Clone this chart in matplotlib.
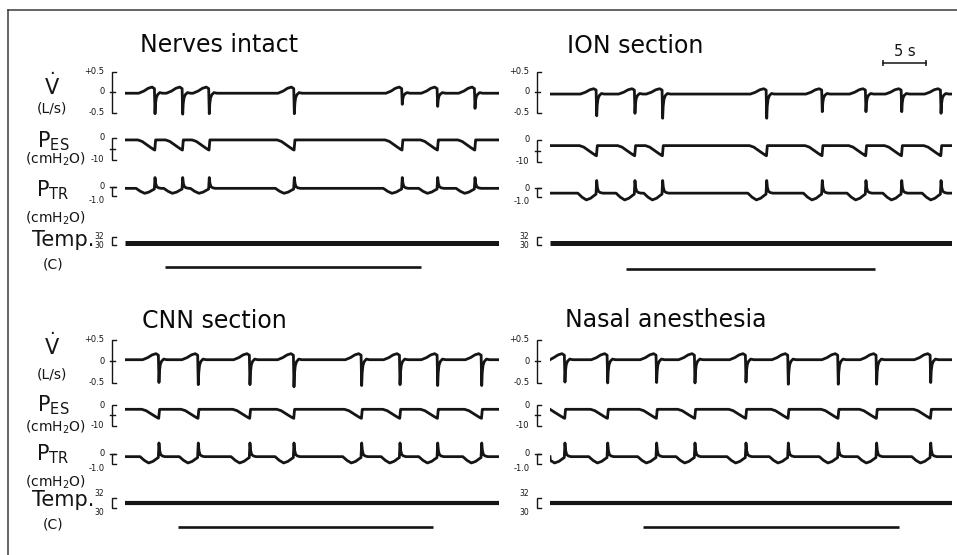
import numpy as np
import matplotlib
matplotlib.use("Agg")
import matplotlib.pyplot as plt
from matplotlib.lines import Line2D

plt.rcParams['font.family'] = ['DejaVu Sans']
plt.rcParams['mathtext.fontset'] = 'dejavusans'

# ------------------------------------------------------------------ data
panel_titles = ["Nerves intact", "ION section", "CNN section", "Nasal anesthesia"]
panel_durations = [43.5, 46.7, 43.5, 46.7]          # s

# time of each inspiratory flow dip (s) and its depth (L/s)
breaths_intact = [3.49, 6.71, 9.80, 19.69, 32.24, 36.36, 40.70]
flow_min_intact = [-0.53, -0.54, -0.53, -0.53, -0.30, -0.35, -0.40]
breaths_ion = [5.43, 9.88, 13.10, 25.20, 31.66, 36.74, 40.90, 45.47]
flow_min_ion = [-0.58, -0.52, -0.64, -0.64, -0.48, -0.48, -0.48, -0.52]
breaths_cnn = [3.95, 8.52, 14.53, 19.65, 27.52, 31.98, 36.36, 41.48]
flow_min_cnn = [-0.50, -0.55, -0.55, -0.60, -0.57, -0.55, -0.57, -0.57]
breaths_nasal = [1.74, 6.71, 12.40, 16.86, 22.79, 27.71, 33.52, 37.98, 44.27]
flow_min_nasal = [-0.49, -0.51, -0.50, -0.51, -0.49, -0.54, -0.54, -0.54, -0.50]

flow_base = [-0.03, -0.05, 0.03, 0.03]      # L/s
flow_hump = [0.12, 0.08, 0.17, 0.17]        # L/s, pre-inspiratory peak
pes_base = [-1.1, -2.6, -2.1, -2.1]         # cmH2O
pes_trough = [-5.7, -7.2, -6.5, -6.5]       # cmH2O
ptr_base = [-0.15, -0.55, -0.3, -0.3]       # cmH2O
ptr_peak = [1.05, 0.85, 1.0, 1.0]           # cmH2O
ptr_dip = [-0.7, -1.3, -0.9, -0.9]          # cmH2O
temp_level = [30.55, 30.55, 31.0, 31.0]     # C
stim_start = [4.65, 8.8, 6.12, 10.78]       # s
stim_end = [34.4, 37.8, 35.85, 40.62]       # s

flow_tick_vals, flow_tick_labels = [0.5, 0, -0.5], ["+0.5", "0", "-0.5"]
pes_tick_vals, pes_tick_labels = [0, -10], ["0", "-10"]
ptr_tick_vals, ptr_tick_labels = [0, -1.0], ["0", "-1.0"]
temp_tick_vals, temp_tick_labels = [32, 30], ["32", "30"]
scale_bar_len = 5      # s
scale_bar_end = 43.7   # s, in the ION panel

breaths = [breaths_intact, breaths_ion, breaths_cnn, breaths_nasal]
flow_mins = [flow_min_intact, flow_min_ion, flow_min_cnn, flow_min_nasal]

# ------------------------------------------------------------------ layout (pixels)
W, H = 957, 555
PX_PER_S = 8.6
panel_x0 = [125, 550, 125, 550]
panel_row = [0, 0, 1, 1]
row_flow = [(92, 41), (361, 43)]        # zero px, px per unit
row_pes = [(137.5, 2.2), (405, 2.05)]
row_ptr = [(187, 9.0), (453.5, 10.5)]
row_temp = [(236.7, 4.15), (498.3, 5.0)]   # px of 32 C, px per unit
panel_bar_y = [267, 269, 527, 527]
panel_ptr_shift = [0, 4, 0, 0]

INK = '#151515'
fig = plt.figure(figsize=(W / 100, H / 100), dpi=100)
fig.patch.set_facecolor('white')


def px_axes(x0, dur, ref_val, ref_px, ppu, vmin, vmax):
    top = ref_px - (vmax - ref_val) * ppu
    bot = ref_px - (vmin - ref_val) * ppu
    ax = fig.add_axes([x0 / W, 1 - bot / H, dur * PX_PER_S / W, (bot - top) / H])
    ax.set_xlim(0, dur)
    ax.set_ylim(vmin, vmax)
    ax.axis('off')
    ax.patch.set_visible(False)
    return ax


def bracket(ax, vals, labels, fs, mid=None, va_list=None):
    bx = -13.5 / PX_PER_S
    tl = 4 / PX_PER_S
    lx = -20.5 / PX_PER_S
    top, bot = max(vals), min(vals)
    ax.plot([bx + tl, bx, bx, bx + tl], [top, top, bot, bot], color=INK,
            lw=1.0, clip_on=False, solid_joinstyle='miter')
    if mid is not None:
        ax.plot([bx - tl * 0.4, bx + tl * 0.8], [mid, mid], color=INK, lw=1.0,
                clip_on=False)
    for i, (v, lab) in enumerate(zip(vals, labels)):
        va = 'center' if va_list is None else va_list[i]
        ax.text(lx, v, lab, ha='right', va=va, fontsize=fs, color=INK)


def build(times, rel, vals_fn, base, dur):
    ts, ys = [0.0], [base]
    for k, t in enumerate(times):
        for r, v in zip(rel, vals_fn(k)):
            if 0 < t + r < dur:
                ts.append(t + r)
                ys.append(base + v)
    ts.append(dur)
    ys.append(base)
    return ts, ys


flow_rel = [-1.9, -1.3, -0.8, -0.35, -0.07, 0.0, 0.06, 0.15, 0.3, 0.55, 0.9]
pes_rel = [-2.0, -1.5, -1.0, -0.5, -0.15, -0.03, 0.07, 0.2]
ptr_rel = [-2.2, -1.7, -1.2, -0.7, -0.3, -0.08, 0.0, 0.08, 0.2, 0.4, 0.7]
TRACE_LW = 2.0

for p in range(4):
    x0 = panel_x0[p]
    dur = panel_durations[p]
    row = panel_row[p]
    bt = breaths[p]

    # ---- flow
    fz, fppu = row_flow[row]
    ax = px_axes(x0, dur, 0, fz, fppu, -0.75, 0.75)
    hb = flow_hump[p] - flow_base[p]
    mins = flow_mins[p]
    ts, ys = build(bt, flow_rel,
                   lambda k: [0, hb * 0.35, hb * 0.8, hb, hb * 0.75,
                              mins[k] - flow_base[p], (mins[k] - flow_base[p]) * 0.5,
                              (mins[k] - flow_base[p]) * 0.22, (mins[k] - flow_base[p]) * 0.07,
                              hb * 0.1, 0],
                   flow_base[p], dur)
    ax.plot(ts, ys, color=INK, lw=TRACE_LW, solid_joinstyle='round')
    bracket(ax, flow_tick_vals, flow_tick_labels, 6, mid=0)
    if p == 1:
        sb0 = scale_bar_end - scale_bar_len
        yb = (fz - 63) / fppu
        ax.plot([sb0, scale_bar_end], [yb, yb], color=INK, lw=1.1, clip_on=False,
                marker='|', markersize=5, markeredgewidth=1.1)
        ax.text((sb0 + scale_bar_end) / 2, (fz - 52) / fppu, "5 s", ha='center',
                va='center', fontsize=10.5, color=INK)

    # ---- oesophageal pressure
    pz, pppu = row_pes[row]
    ax = px_axes(x0, dur, 0, pz + panel_ptr_shift[p] * 0.6, pppu, -15, 5)
    dd = pes_trough[p] - pes_base[p]
    ts, ys = build(bt, pes_rel,
                   lambda k: [0, dd * 0.15, dd * 0.45, dd * 0.75, dd * 0.95, dd, 0, 0],
                   pes_base[p], dur)
    ax.plot(ts, ys, color=INK, lw=TRACE_LW, solid_joinstyle='round')
    bracket(ax, pes_tick_vals, pes_tick_labels, 6, mid=-5)

    # ---- tracheal pressure
    tz, tppu = row_ptr[row]
    ax = px_axes(x0, dur, 0, tz + panel_ptr_shift[p] * 0.3, tppu, -2.5, 2.0)
    dp = ptr_dip[p] - ptr_base[p]
    pk = ptr_peak[p] - ptr_base[p]
    ts, ys = build(bt, ptr_rel,
                   lambda k: [0, dp * 0.6, dp, dp * 0.75, dp * 0.35, dp * 0.15,
                              pk, pk * 0.45, pk * 0.15, pk * 0.05, 0],
                   ptr_base[p], dur)
    ax.plot(ts, ys, color=INK, lw=TRACE_LW, solid_joinstyle='round')
    bracket(ax, ptr_tick_vals, ptr_tick_labels, 6, mid=0,
            va_list=['center', 'top'])

    # ---- temperature
    mz, mppu = row_temp[row]
    ax = px_axes(x0, dur, 32, mz, mppu, 28, 34)
    ax.plot([0, dur], [temp_level[p], temp_level[p]], color=INK,
            lw=3.6 if row == 0 else 3.0, solid_capstyle='butt')
    if row == 0:
        bracket(ax, temp_tick_vals, temp_tick_labels, 5.5)
    else:
        bracket(ax, temp_tick_vals, temp_tick_labels, 5.5,
                va_list=['bottom', 'top'])

    # ---- stimulus bar
    by = panel_bar_y[p]
    ax = fig.add_axes([x0 / W, 1 - (by + 3) / H, dur * PX_PER_S / W, 6 / H])
    ax.set_xlim(0, dur)
    ax.set_ylim(-1, 1)
    ax.axis('off')
    ax.patch.set_visible(False)
    ax.plot([stim_start[p], stim_end[p]], [0, 0], color=INK, lw=1.9,
            solid_capstyle='butt')

# ------------------------------------------------------------------ titles
title_pos = [(140, 52), (567, 53), (142, 328), (565, 327)]
for title, (tx, ty) in zip(panel_titles, title_pos):
    fig.text(tx / W, 1 - ty / H, title, ha='left', va='baseline',
             fontsize=17, color='#0a0a0a')

# ------------------------------------------------------------------ channel labels
labels_top = [(r'$\mathrm{\dot{V}}$', 52, 95, 15),
              ('(L/s)', 52, 113, 10),
              (r'$\mathrm{P_{ES}}$', 53, 147, 15),
              (r'(cmH$_2$O)', 55, 164, 10),
              (r'$\mathrm{P_{TR}}$', 53, 196.5, 15),
              (r'(cmH$_2$O)', 55, 223, 10),
              ('Temp.', 63, 246.5, 15),
              ('(C)', 53, 268, 10)]
labels_bot = [(r'$\mathrm{\dot{V}}$', 52, 355, 15),
              ('(L/s)', 52, 378, 10),
              (r'$\mathrm{P_{ES}}$', 53, 411.5, 15),
              (r'(cmH$_2$O)', 55, 431.5, 10),
              (r'$\mathrm{P_{TR}}$', 53, 460, 15),
              (r'(cmH$_2$O)', 55, 486.5, 10),
              ('Temp.', 63, 506.5, 15),
              ('(C)', 53, 528, 10)]
for s, lx, ly, fs in labels_top + labels_bot:
    fig.text(lx / W, 1 - ly / H, s, ha='center', va='baseline', fontsize=fs,
             color=INK)

# ------------------------------------------------------------------ frame
fig.add_artist(Line2D([8 / W, 8 / W], [0, 1 - 10 / H], color='#3a3a3a', lw=1.1,
                      transform=fig.transFigure))
fig.add_artist(Line2D([8 / W, 1], [1 - 10 / H, 1 - 10 / H], color='#3a3a3a',
                      lw=1.1, transform=fig.transFigure))

fig.savefig('out.png', dpi=100, facecolor='white')
